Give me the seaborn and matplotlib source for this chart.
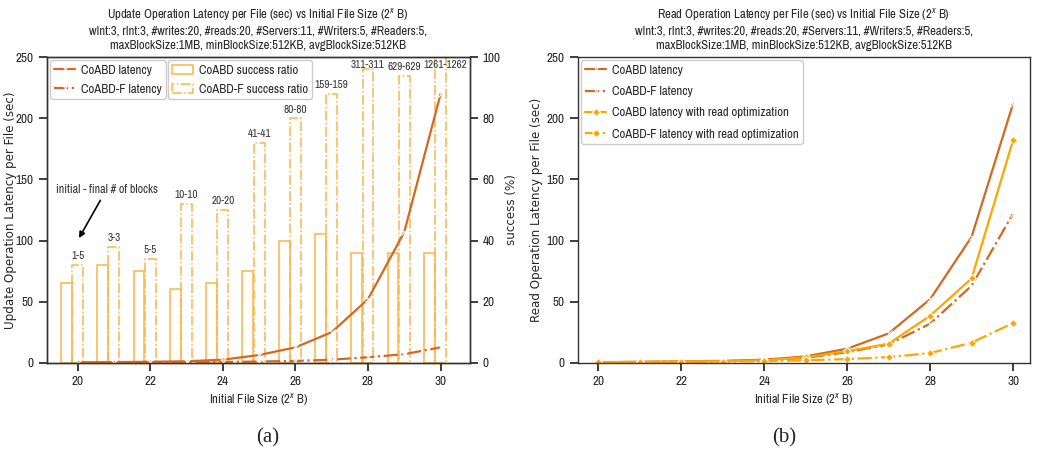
import numpy as np
import matplotlib
matplotlib.use("Agg")
import matplotlib.pyplot as plt
from matplotlib import font_manager as fm
import seaborn as sns
from matplotlib.patches import Patch

# ---------------- data ----------------
sizes = np.array([20, 21, 22, 23, 24, 25, 26, 27, 28, 29, 30])

upd_coabd = [0.3, 0.5, 0.8, 1.2, 2.5, 6.3, 12.6, 25, 52, 107, 220]
upd_coabdf = [0.2, 0.2, 0.3, 0.4, 0.6, 1.0, 1.5, 2.5, 4.5, 7, 12.6]

succ_coabd = [26, 32, 30, 24, 26, 30, 40, 42, 36, 36, 36]
succ_coabdf = [32, 38, 34, 52, 50, 72, 80, 88, 96, 94, 100]
block_labels = ["1-5", "3-3", "5-5", "10-10", "20-20", "41-41", "80-80",
                "159-159", "311-311", "629-629", "1261-1262"]

read_coabd = [0.5, 0.7, 1.0, 1.5, 2.5, 5.2, 11.5, 24, 52, 103, 212]
read_coabdf = [0.4, 0.6, 0.8, 1.2, 2.0, 4.0, 8.7, 15, 32, 63, 122]
read_coabd_opt = [0.5, 0.6, 0.9, 1.3, 2.0, 4.5, 9.5, 15.6, 38.5, 69, 182]
read_coabdf_opt = [0.5, 0.6, 0.8, 1.0, 1.3, 2.0, 3.0, 4.6, 7.9, 16.4, 32.5]

subtitle = ("wInt:3, rInt:3, #writes:20, #reads:20, #Servers:11, #Writers:5, #Readers:5,\n"
            "maxBlockSize:1MB, minBlockSize:512KB, avgBlockSize:512KB")

# ---------------- style ----------------
sns.set_theme(style="ticks")
available = set(f.name for f in fm.fontManager.ttflist)
narrow = "DejaVu Sans"
for cand in ["Liberation Sans Narrow", "Arial Narrow", "Archivo Narrow",
             "Roboto Condensed", "Barlow Semi Condensed", "Asap Condensed"]:
    if cand in available:
        narrow = cand
        break
plt.rcParams["font.family"] = [narrow, "DejaVu Sans"]
plt.rcParams["mathtext.fontset"] = "custom"
plt.rcParams["mathtext.rm"] = narrow
plt.rcParams["mathtext.it"] = narrow + ":italic"
plt.rcParams["axes.edgecolor"] = "#333333"
plt.rcParams["axes.linewidth"] = 1.0

dark = "#d2691e"
orange = "#ffa500"
bar_col = "#ffb347"

fig = plt.figure(figsize=(10.39, 4.54), dpi=100)
axL = fig.add_axes([0.045, 0.201, 0.407, 0.673])
axR = fig.add_axes([0.556, 0.201, 0.435, 0.673])

fs_tick = 9.5
fs_lab = 9
fs_ylab = 8.6
fs_title = 9.1
fs_leg = 9.2
leg_kw = dict(fontsize=fs_leg, framealpha=1, handlelength=1.6,
              handletextpad=0.45, borderpad=0.35, borderaxespad=0.25)

# ---------------- left chart ----------------
axB = axL.twinx()
axB.bar(sizes - 0.31, succ_coabd, width=0.3, fill=False, edgecolor=bar_col,
        linewidth=1.1)
axB.bar(sizes, succ_coabdf, width=0.3, fill=False, edgecolor=bar_col,
        linewidth=1.1, linestyle="-.")
for x, v, t in zip(sizes, succ_coabdf, block_labels):
    axB.text(x + (0.12 if v >= 99 else 0), min(v, 94.5) + 1.2, t,
             ha="center", va="bottom", fontsize=8, color="#333333")
axB.set_ylim(0, 100)
axB.set_yticks([0, 20, 40, 60, 80, 100])
axB.set_ylabel("success (%)", fontsize=fs_ylab, family="DejaVu Sans")
axB.yaxis.set_label_coords(1.083, 0.5)
axB.tick_params(labelsize=fs_tick)

axL.set_zorder(axB.get_zorder() + 1)
axL.patch.set_visible(False)

sns.lineplot(x=sizes, y=upd_coabd, ax=axL, color=dark, marker="x",
             markersize=5, linewidth=1.6, label="CoABD latency")
sns.lineplot(x=sizes, y=upd_coabdf, ax=axL, color=dark, marker="x",
             markersize=5, linewidth=1.6, linestyle="-.",
             label="CoABD-F latency")
axL.set_ylim(0, 250)
axL.set_xlim(19.15, 30.8)
axL.set_xticks([20, 22, 24, 26, 28, 30])
axL.set_yticks([0, 50, 100, 150, 200, 250])
axL.tick_params(labelsize=fs_tick)
axL.set_xlabel("Initial File Size ($2^x$ B)", fontsize=fs_lab)
axL.set_ylabel("Update Operation Latency per File (sec)", fontsize=fs_ylab,
               family="DejaVu Sans")
axL.yaxis.set_label_coords(-0.07, 0.5)
axL.set_title("Update Operation Latency per File (sec) vs Initial File Size ($2^x$ B)\n"
              + subtitle, fontsize=fs_title, linespacing=1.35)

axL.annotate("initial - final # of blocks", xy=(20, 100), xytext=(20.8, 142),
             ha="center", va="center", fontsize=8.7, color="#333333",
             arrowprops=dict(arrowstyle="-|>", color="black", lw=1.2))

leg1 = axL.legend(loc="upper left", labelspacing=0.6, **leg_kw)
axL.add_artist(leg1)
fig.canvas.draw()
bb = leg1.get_window_extent()
ax_bb = axL.get_window_extent()
x_next = (bb.x1 + 2 - ax_bb.x0) / ax_bb.width
y_top = (bb.y1 - ax_bb.y0) / ax_bb.height
bar_handles = [Patch(facecolor="none", edgecolor=bar_col, linewidth=1.1),
               Patch(facecolor="none", edgecolor=bar_col, linewidth=1.1,
                     linestyle="-.")]
axL.legend(bar_handles, ["CoABD success ratio", "CoABD-F success ratio"],
           loc="upper left", bbox_to_anchor=(x_next, y_top), labelspacing=0.6,
           **{**leg_kw, "borderaxespad": 0.0})

# ---------------- right chart ----------------
sns.lineplot(x=sizes, y=read_coabd, ax=axR, color=dark, marker="x",
             markersize=5, linewidth=1.6, label="CoABD latency")
sns.lineplot(x=sizes, y=read_coabdf, ax=axR, color=dark, marker="x",
             markersize=5, linewidth=1.6, linestyle="-.",
             label="CoABD-F latency")
sns.lineplot(x=sizes, y=read_coabd_opt, ax=axR, color=orange, marker="D",
             markersize=4, linewidth=1.6,
             label="CoABD latency with read optimization")
sns.lineplot(x=sizes, y=read_coabdf_opt, ax=axR, color=orange, marker="D",
             markersize=4, linewidth=1.6, linestyle="-.",
             label="CoABD-F latency with read optimization")
axR.set_ylim(0, 250)
axR.set_xlim(19.5, 30.4)
axR.set_xticks([20, 22, 24, 26, 28, 30])
axR.set_yticks([0, 50, 100, 150, 200, 250])
axR.tick_params(labelsize=fs_tick)
axR.set_xlabel("Initial File Size ($2^x$ B)", fontsize=fs_lab)
axR.set_ylabel("Read Operation Latency per File (sec)", fontsize=fs_ylab,
               family="DejaVu Sans")
axR.yaxis.set_label_coords(-0.077, 0.5)
axR.set_title("Read Operation Latency per File (sec) vs Initial File Size ($2^x$ B)\n"
              + subtitle, fontsize=fs_title, linespacing=1.35)
axR.legend(loc="upper left", labelspacing=0.8, **leg_kw)

# captions
fig.text(0.258, 0.035, "(a)", ha="center", va="center", fontsize=15,
         family=["Liberation Serif", "DejaVu Serif"])
fig.text(0.755, 0.035, "(b)", ha="center", va="center", fontsize=15,
         family=["Liberation Serif", "DejaVu Serif"])

fig.savefig("out.png", dpi=100)
